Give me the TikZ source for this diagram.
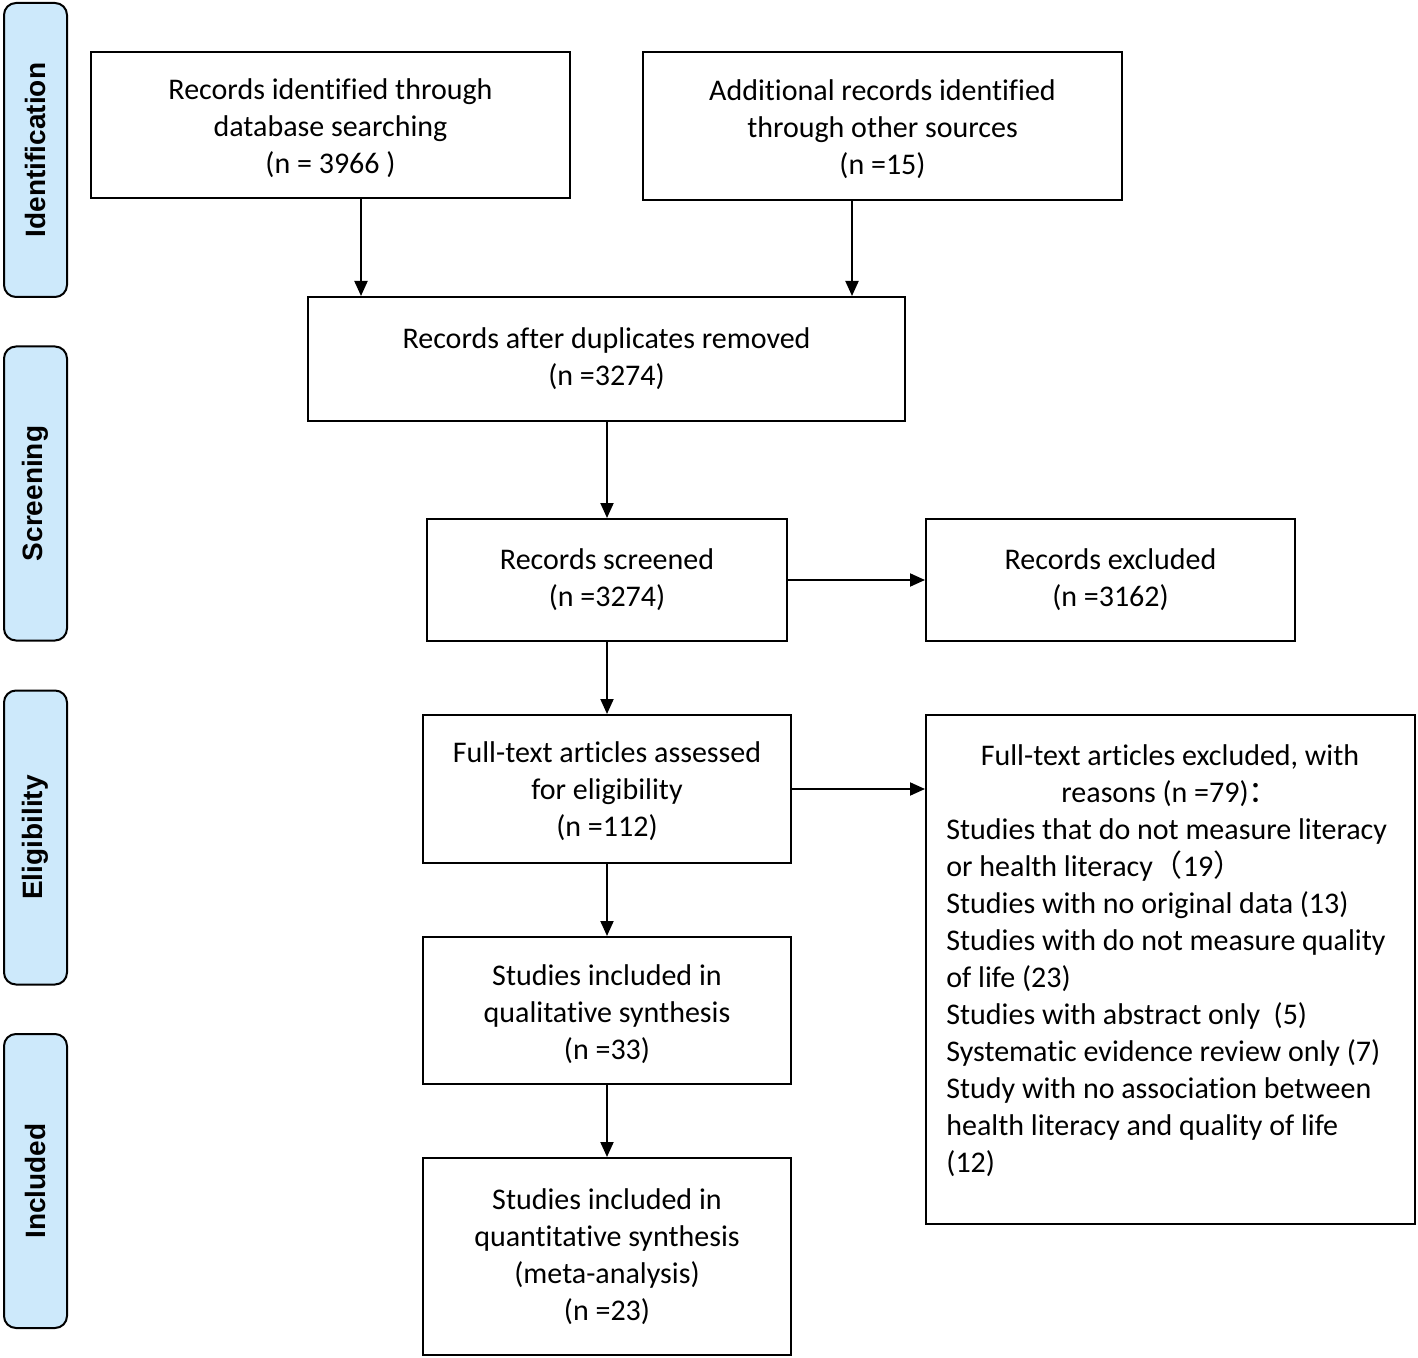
\documentclass[tikz,border=0pt]{standalone}
\usepackage{fontspec}
\setmainfont[Ligatures=NoCommon]{Carlito}
\newfontfamily\sidefont{Liberation Sans}
\newfontfamily\cjk{Noto Sans CJK SC}
\usetikzlibrary{arrows.meta}
\definecolor{barblue}{HTML}{CDE9FB}
\begin{document}
\begin{tikzpicture}[x=0.5pt,y=-0.5pt,
  box/.style={draw, line width=1pt, inner sep=0pt, align=center,
    font=\fontsize{15}{18.5}\selectfont},
  bar/.style={draw, line width=1pt, rounded corners=6pt, fill=barblue,
    minimum width=31.5pt, minimum height=147pt, inner sep=0pt},
  barlabel/.style={rotate=90, font=\sidefont\bfseries\fontsize{14}{16}\selectfont},
  txt/.style={inner sep=0pt, font=\fontsize{15}{18.5}\selectfont},
  arr/.style={line width=1pt, -{Triangle[length=7.5pt,width=6.5pt]}}]
\useasboundingbox (0,0) rectangle (1418,1358);
% side bars
\node[bar] (b1) at (35.5,150) {};
\node[barlabel] (l1) at (b1.center) {Identification};
\node[bar] (b2) at (35.5,493.5) {};
\node[barlabel] (l2) at (b2.center) {Screening};
\node[bar] (b3) at (35.5,837.5) {};
\node[barlabel] (l3) at (b3.center) {Eligibility};
\node[bar] (b4) at (35.5,1181) {};
\node[barlabel] (l4) at (b4.center) {Included};
% boxes
\node[box, minimum width=239.5pt, minimum height=73pt] (A) at (330.5,125)
  {\rule{0pt}{14pt}Records identified through\\database searching\\(n = 3966 )};
\node[box, minimum width=239.5pt, minimum height=74pt] (B) at (882.5,126)
  {\rule{0pt}{14pt}Additional records identified\\through other sources\\(n =15)};
\node[box, minimum width=298.5pt, minimum height=62pt] (C) at (606.5,359)
  {Records after duplicates removed\\(n =3274)};
\node[box, minimum width=180pt, minimum height=61pt] (D) at (607,580)
  {Records screened\\(n =3274)};
\node[box, minimum width=184.5pt, minimum height=61pt] (E) at (1110.5,580)
  {Records excluded\\(n =3162)};
\node[box, minimum width=184pt, minimum height=74pt] (F) at (607,789)
  {\rule{0pt}{13pt}Full-text articles assessed\\for eligibility\\(n =112)};
\node[box, minimum width=244.5pt, minimum height=254.5pt] (G) at (1170.5,969.5) {};
\node[txt, align=center] (Gh) at (1170,775.5)
  {Full-text articles excluded, with\\reasons (n =79){\cjk ：}};
\node[txt, align=left, anchor=west] (Gl) at (946,998)
  {Studies that do not measure literacy\\
   or health literacy{\cjk （}19{\cjk ）}\\
   Studies with no original data (13)\\
   Studies with do not measure quality\\
   of life (23)\\
   Studies with abstract only~ (5)\\
   Systematic evidence review only (7)\\
   Study with no association between\\
   health literacy and quality of life\\
   (12)};
\node[box, minimum width=184pt, minimum height=73.5pt] (H) at (607,1010.5)
  {\rule{0pt}{14pt}Studies included in\\qualitative synthesis\\(n =33)};
\node[box, minimum width=184pt, minimum height=98.5pt] (I) at (607,1256.5)
  {Studies included in\\quantitative synthesis\\(meta-analysis)\\(n =23)};
% arrows
\coordinate (ax) at (361,0);
\coordinate (bx) at (852,0);
\draw[arr] (A.south -| ax) -- (C.north -| ax);
\draw[arr] (B.south -| bx) -- (C.north -| bx);
\draw[arr] (C.south -| D.north) -- (D.north);
\draw[arr] (D.east) -- (E.west);
\draw[arr] (D.south) -- (F.north);
\draw[arr] (F.east) -- (G.west |- F.east);
\draw[arr] (F.south) -- (H.north);
\draw[arr] (H.south) -- (I.north);
\end{tikzpicture}
\end{document}
